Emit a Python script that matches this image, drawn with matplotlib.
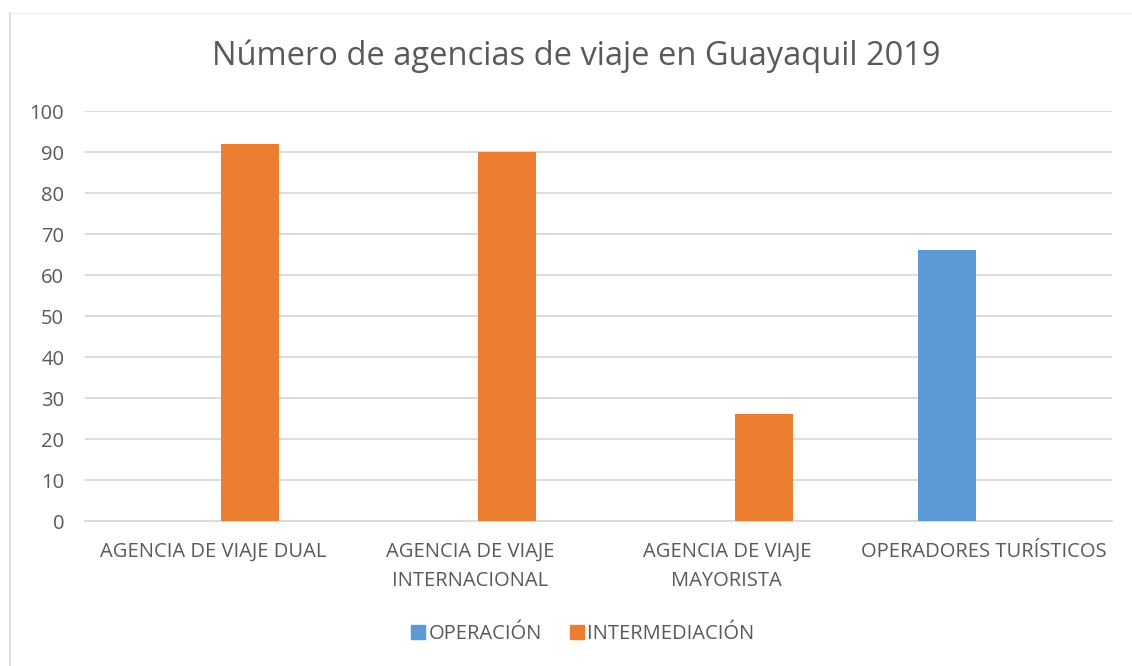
import numpy as np
import matplotlib
matplotlib.use("Agg")
import matplotlib.pyplot as plt
from matplotlib.lines import Line2D

# ====================================================================
# DATA
# ====================================================================
categories = ["AGENCIA DE VIAJE DUAL", "AGENCIA DE VIAJE\nINTERNACIONAL",
              "AGENCIA DE VIAJE\nMAYORISTA", "OPERADORES TURÍSTICOS"]
operacion = [0, 0, 0, 66]
intermediacion = [92, 90, 26, 0]
series_names = ["OPERACIÓN", "INTERMEDIACIÓN"]
yticks = [0, 10, 20, 30, 40, 50, 60, 70, 80, 90, 100]
title = "Número de agencias de viaje en Guayaquil 2019"

c_blue = "#5b9bd5"
c_orange = "#ed7d31"
c_text = "#595959"
c_grid = "#d9d9d9"

plt.rcParams["font.family"] = ["Open Sans", "DejaVu Sans"]

fig = plt.figure(figsize = (11.32, 6.66), dpi = 100)
ax = fig.add_axes([0.0751, 0.2177, 0.9072, 0.6156])

x = np.arange(len(categories))
w = 0.226
off = 0.1435
ax.bar(x - off, operacion, width = w, color = c_blue, zorder = 3)
ax.bar(x + off, intermediacion, width = w, color = c_orange, zorder = 3)

ax.set_xlim(-0.5, len(categories) - 0.5)
ax.set_ylim(0, 100)
ax.set_yticks(yticks)
ax.yaxis.grid(True, color = c_grid, linewidth = 1.3, zorder = 0)
ax.set_axisbelow(True)
for s in ["top", "right", "left"]:
    ax.spines[s].set_visible(False)
ax.spines["bottom"].set_color(c_grid)
ax.spines["bottom"].set_linewidth(1.3)
ax.tick_params(axis = "both", length = 0, colors = c_text, labelsize = 14.5)
ax.tick_params(axis = "y", pad = 15)
ax.tick_params(axis = "x", pad = 15)
ax.set_xticks(x)
ax.set_xticklabels(categories, linespacing = 1.6)

fig.text(0.509, 0.915, title, ha = "center", va = "center",
         fontsize = 23.5, color = c_text)

handles = [Line2D([], [], marker = "s", linestyle = "", markersize = 10,
                  color = c) for c in (c_blue, c_orange)]
fig.legend(handles, series_names, loc = "center", bbox_to_anchor = (0.514, 0.048),
           ncol = 2, frameon = False, fontsize = 14.5, handletextpad = 0.05,
           columnspacing = 1.3, labelcolor = c_text, handlelength = 0.9)

# faint chart-area border (left and top edges visible)
fig.add_artist(Line2D([0.0088, 0.0088], [0.0, 0.98], color = "#d9d9d9",
                      linewidth = 1.2, transform = fig.transFigure))
fig.add_artist(Line2D([0.0088, 1.0], [0.98, 0.98], color = "#eeeeee",
                      linewidth = 1.0, transform = fig.transFigure))

fig.savefig("out.png", dpi = 100)
plt.close(fig)
